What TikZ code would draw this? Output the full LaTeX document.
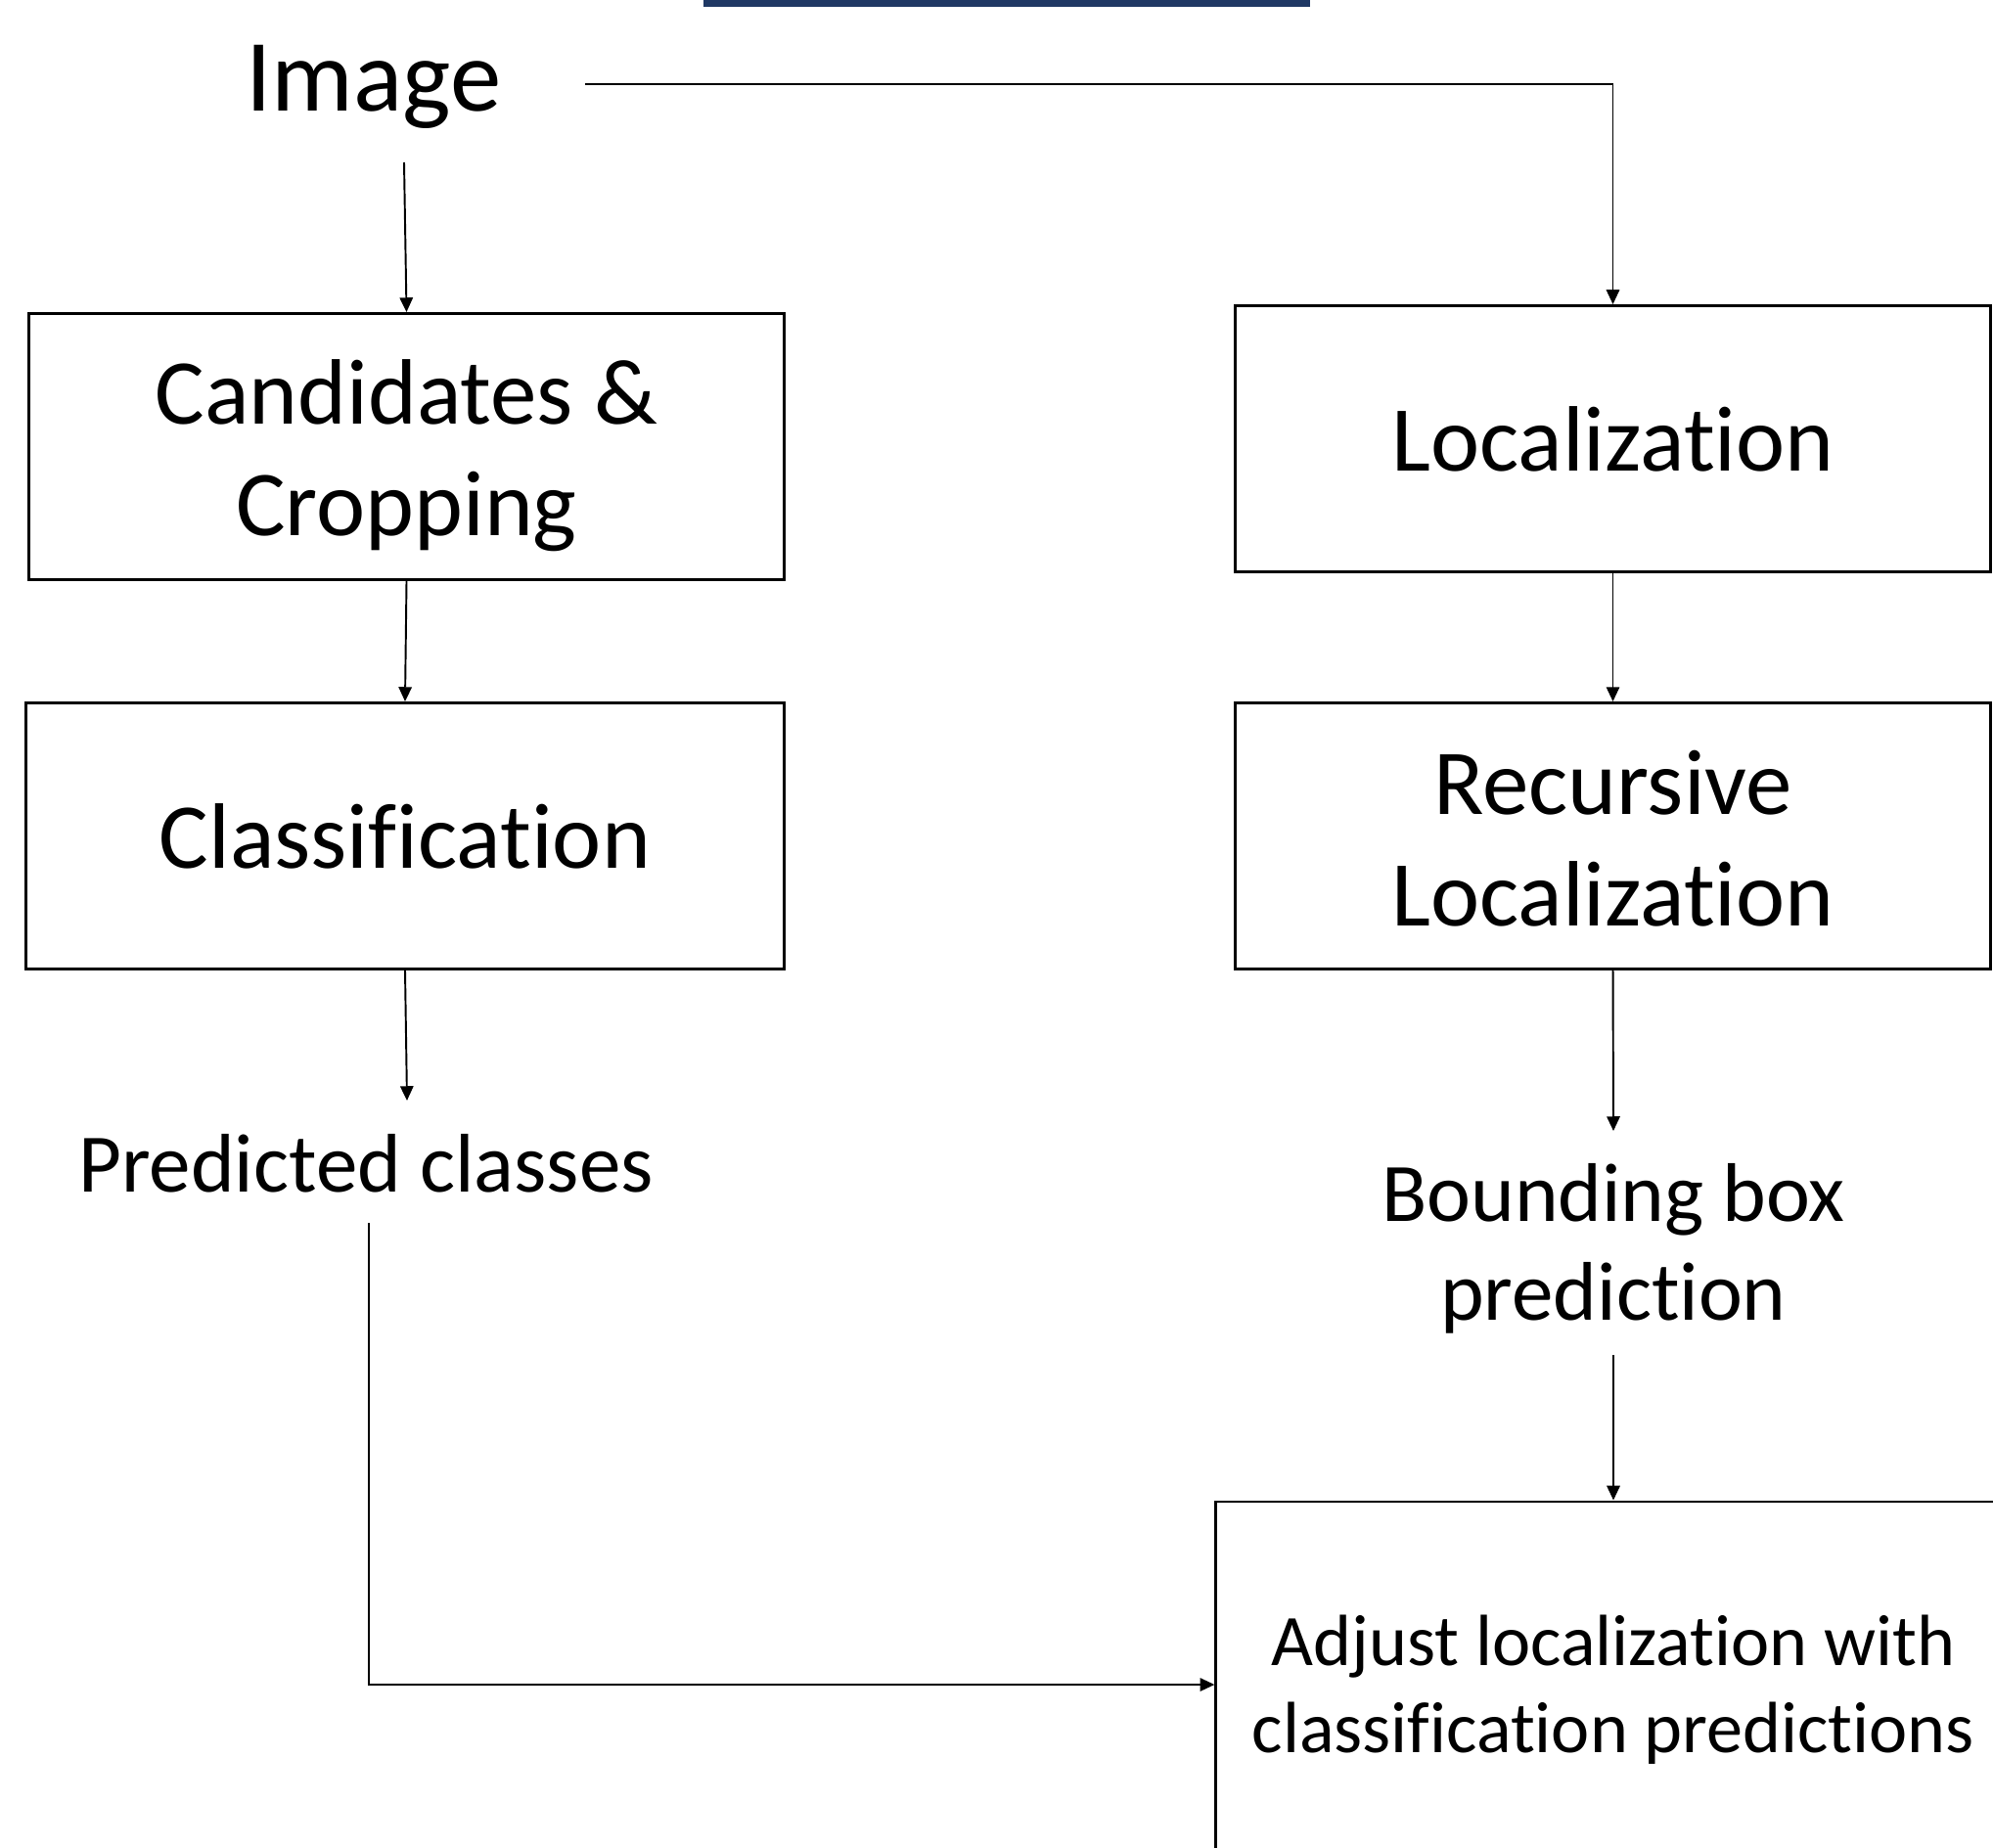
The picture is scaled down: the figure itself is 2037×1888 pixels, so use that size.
\documentclass[tikz,border=0pt]{standalone}
\usepackage{fontspec}
\setmainfont{Carlito}[RawFeature=-liga, RawFeature=-clig, RawFeature=-calt]
\usetikzlibrary{arrows.meta}
\definecolor{navy}{HTML}{1F3864}
\newcommand{\titlefont}{\fontsize{29.8}{35}\selectfont}
\newcommand{\boxfont}{\fontsize{27}{32.4}\selectfont}
\newcommand{\lblfont}{\fontsize{24.2}{28.7}\selectfont}
\newcommand{\adjfont}{\fontsize{21.1}{25.3}\selectfont}
\tikzset{
  % A processing stage
  stage/.style={
    draw=black, line width=0.8pt, fill=white, rectangle, align=center,
    font=\boxfont, inner sep=0pt, minimum width=#1, minimum height=2.72cm},
  % Text set inside a stage, nudged a little
  inside/.style={font=\boxfont, align=center, inner sep=0pt, yshift=#1},
  % Free text between stages
  plain/.style={align=center, inner sep=0pt},
  % Connectors
  flow/.style={-{Triangle[length=4.2pt, width=3.8pt]}, draw=black, line width=0.55pt},
}

\begin{document}
\begin{tikzpicture}[x=0.01cm, y=-0.01cm]

  \useasboundingbox (0,0) rectangle (2037,1888);
  \clip (0,0) rectangle (2037,1888);

  % top strip
  \fill[navy] (719,-2) rectangle (1339,7);

  \node[plain, font=\titlefont] (img) at (382,89) {Image};

  \node[stage=7.71cm, label={[inside=-2.6pt]center:Candidates \&\\Cropping}] (cand) at (415.5,456.5) {};
  \node[stage=7.74cm] (cls) at (414,854.5) {Classification};
  \node[plain, font=\lblfont] (pred) at (374,1189) {Predicted classes};

  \node[stage=7.71cm] (loc) at (1648.5,448.5) {Localization};
  \node[stage=7.71cm, label={[inside=-0.7pt]center:Recursive\\Localization}] (rec) at (1648.5,854.5) {};
  \node[plain, font=\lblfont] (bbox) at (1649,1276) {Bounding box\\prediction};
  \node[stage=8.12cm, minimum height=3.74cm,
        label={[inside=-1.4pt, font=\adjfont]center:Adjust localization with\\classification predictions}]
        (adj) at (1649,1722) {};

  \coordinate (imgdown) at (413,166);
  \coordinate (imgright) at (598,86);
  \coordinate (predin) at (416,1125);
  \coordinate (predout) at (377,1250);
  \coordinate (bboxin) at (1649,1156);
  \coordinate (bboxout) at (1649,1385);

  \draw[flow] (imgdown) -- (cand.north);
  \draw[flow] (imgright) -| (loc.north);
  \draw[flow] (cand.south) -- (cls.north);
  \draw[flow] (cls.south) -- (predin);
  \draw[flow] (loc.south) -- (rec.north);
  \draw[flow] (rec.south) -- (bboxin);
  \draw[flow] (bboxout) -- (adj.north);
  \draw[flow] (predout) |- (adj.west);

\end{tikzpicture}
\end{document}
